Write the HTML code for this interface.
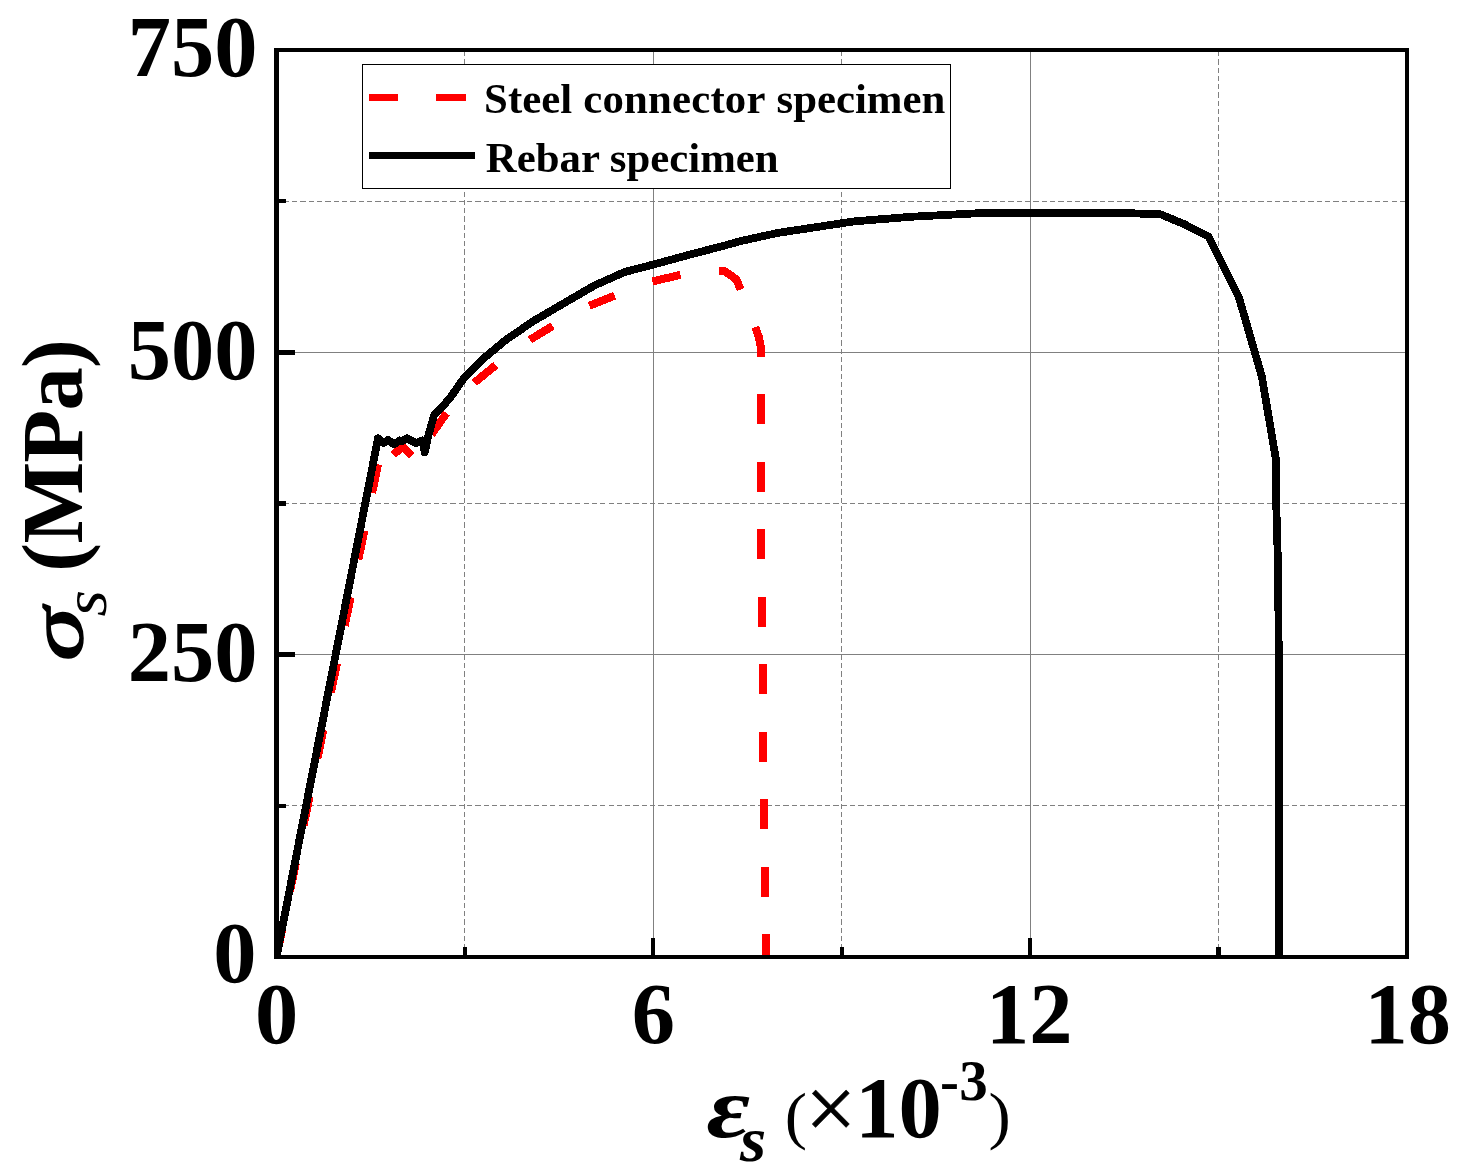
<!DOCTYPE html>
<html lang="en"><head><meta charset="utf-8"><title>Stress-strain curves</title>
<style>
html,body{margin:0;padding:0;background:#fff;}
body{width:1470px;height:1171px;overflow:hidden;}
svg{display:block;}
text{font-family:"Liberation Serif","Times New Roman",serif;fill:#000;}
.b{font-weight:bold;}
.i{font-style:italic;}
</style></head><body>
<svg width="1470" height="1171" viewBox="0 0 1470 1171">
<rect x="0" y="0" width="1470" height="1171" fill="#fff"/>

<g shape-rendering="crispEdges" stroke="#808080" stroke-width="1" fill="none">
<line x1="653.5" y1="52" x2="653.5" y2="955"/>
<line x1="1030.5" y1="52" x2="1030.5" y2="955"/>
<line x1="279" y1="654.5" x2="1405" y2="654.5"/>
<line x1="279" y1="352.5" x2="1405" y2="352.5"/>
</g>
<g shape-rendering="crispEdges" stroke="#808080" stroke-width="1" fill="none" >
<line x1="464.5" y1="51" x2="464.5" y2="955" stroke-dasharray="5.27 3"/>
<line x1="841.5" y1="51" x2="841.5" y2="955" stroke-dasharray="5.27 3"/>
<line x1="1218.5" y1="51" x2="1218.5" y2="955" stroke-dasharray="5.27 3"/>
<line x1="275.3" y1="805.5" x2="1405" y2="805.5" stroke-dasharray="5.3 3.03"/>
<line x1="275.3" y1="503.5" x2="1405" y2="503.5" stroke-dasharray="5.3 3.03"/>
<line x1="275.3" y1="201.5" x2="1405" y2="201.5" stroke-dasharray="5.3 3.03"/>
</g>
<clipPath id="plotclip"><rect x="276" y="50" width="1131" height="907"/></clipPath>
<g clip-path="url(#plotclip)">
<g fill="none" stroke="#ff0000" stroke-width="8" stroke-linejoin="round" shape-rendering="crispEdges">
<polyline points="276.3,957.8 282.2,929.2"/>
<polyline points="290.0,891.4 295.9,862.8"/>
<polyline points="303.7,825.0 309.6,796.4"/>
<polyline points="317.4,758.6 323.3,730.0"/>
<polyline points="331.0,692.2 336.9,663.6"/>
<polyline points="344.7,625.8 350.6,597.2"/>
<polyline points="358.4,559.4 364.3,530.8"/>
<polyline points="372.1,493.0 378.0,464.4"/>
<polyline points="393.3,454.8 402.5,446.5 411.8,455.5"/>
<polyline points="431.4,434.6 446.5,413.1"/>
<polyline points="474.3,382.8 495.8,365.1"/>
<polyline points="529.9,339.8 552.7,325.9"/>
<polyline points="589.3,305.7 614.6,295.6"/>
<polyline points="652.3,281.5 680.5,274.8"/>
<polyline points="718.9,270.9 725.0,271.3 736.3,279.4 740.6,289.5"/>
<polyline points="755.3,327.1 758.9,337.3 760.7,346.6 760.7,356.8"/>
<polyline points="761.0,394.0 761.0,424.0"/>
<polyline points="761.0,461.5 761.0,491.5"/>
<polyline points="761.2,529.0 761.2,559.0"/>
<polyline points="761.7,596.5 761.7,626.5"/>
<polyline points="762.5,664.0 762.5,694.0"/>
<polyline points="763.3,731.5 763.3,761.5"/>
<polyline points="764.3,799.0 764.3,829.0"/>
<polyline points="765.2,866.5 765.2,896.5"/>
<polyline points="766.2,934.0 766.2,957.0"/>
</g>
<polyline fill="none" stroke="#000" stroke-width="7.8" stroke-linejoin="round" shape-rendering="crispEdges" points="276.5,957.0 378.0,438.3 383.4,443.0 388.1,440.0 394.1,444.3 399.6,440.4 402.8,441.0 406.6,438.3 415.8,443.0 422.3,440.5 424.8,452.5 428.2,436.0 434.2,414.8 449.2,399.2 464.2,377.7 483.2,358.8 505.9,339.8 533.7,320.9 564.0,303.2 594.4,285.5 624.7,272.0 653.8,264.4 692.9,253.8 723.3,245.9 740.0,241.2 778.3,232.8 854.8,221.3 912.1,216.7 984.8,212.9 1122.5,212.9 1160.8,214.4 1183.8,224.0 1208.6,236.6 1238.9,297.3 1261.9,376.8 1276.0,460.0 1276.3,505.2 1277.9,562.5 1278.6,628.0 1279.0,957.0"/>
</g>
<g shape-rendering="crispEdges" fill="#000">
<rect x="274" y="48" width="5" height="911"/>
<rect x="274" y="48" width="1135" height="4"/>
<rect x="1405" y="48" width="4" height="911"/>
<rect x="274" y="955" width="1135" height="4"/>
<rect x="279" y="652" width="16" height="5"/>
<rect x="279" y="350" width="16" height="5"/>
<rect x="279" y="804" width="7" height="4"/>
<rect x="279" y="501" width="7" height="5"/>
<rect x="279" y="199" width="7" height="4"/>
<rect x="651" y="938" width="4" height="17"/>
<rect x="1028" y="938" width="4" height="17"/>
<rect x="463" y="947" width="4" height="8"/>
<rect x="840" y="947" width="4" height="8"/>
<rect x="1216" y="947" width="5" height="8"/>
</g>
<rect x="362.5" y="64.5" width="588" height="124" fill="#fff" stroke="#000" stroke-width="1" shape-rendering="crispEdges"/>
<g shape-rendering="crispEdges"><rect x="369" y="94" width="29" height="7" fill="#f00"/><rect x="436" y="94" width="30" height="7" fill="#f00"/><rect x="369" y="152" width="106" height="7" fill="#000"/></g>
<text class="b" y="112.8" font-size="42.8"><tspan x="484.1">Steel </tspan><tspan x="583.2" letter-spacing="0.2">connector </tspan><tspan x="776.5">specimen</tspan></text>
<text class="b" x="485.8" y="171.5" font-size="42.8">Rebar specimen</text>
<text class="b" x="257.5" y="75.5" font-size="86.5" text-anchor="end">750</text>
<text class="b" x="257.5" y="378.8" font-size="86.5" text-anchor="end">500</text>
<text class="b" x="257.5" y="681.2" font-size="86.5" text-anchor="end">250</text>
<text class="b" x="256.5" y="982.2" font-size="86.5" text-anchor="end">0</text>
<text class="b" x="276.5" y="1042.5" font-size="86.5" text-anchor="middle">0</text>
<text class="b" x="653.3" y="1042.5" font-size="86.5" text-anchor="middle">6</text>
<text class="b" x="1029.2" y="1042.5" font-size="86.5" text-anchor="middle">12</text>
<text class="b" x="1407.7" y="1042.5" font-size="86.5" text-anchor="middle">18</text>
<text class="b i" transform="translate(706.5,1137.4) scale(1.23,1.01)" font-size="86.5">ε</text>
<text class="b i" transform="translate(739.9,1160.8) scale(1.08,1)" font-size="62.4">s</text>
<text transform="translate(784.8,1137.3) scale(1.04,1)" font-size="64.3">(</text>
<text x="805.2" y="1138.5" font-size="90.5" stroke="#000" stroke-width="0.6">×</text>
<text class="b" x="855.2" y="1136.7" font-size="86.5">10</text>
<text class="b" y="1100" font-size="57"><tspan x="939.9">-</tspan><tspan x="959.3">3</tspan></text>
<text transform="translate(988.4,1137.3) scale(1.04,1)" font-size="64.3">)</text>
<text class="i" transform="translate(82.4,661.1) rotate(-90) scale(1.25,0.892)" font-size="86.5" stroke="#000" stroke-width="1.7" stroke-linejoin="round">σ</text>
<text class="i" transform="translate(106.4,616.6) rotate(-90) scale(1.12,1)" font-size="61.1">s</text>
<text class="b" transform="translate(81.7,571.7) rotate(-90)" font-size="86.5" letter-spacing="-0.7">(MPa)</text>
</svg></body></html>
